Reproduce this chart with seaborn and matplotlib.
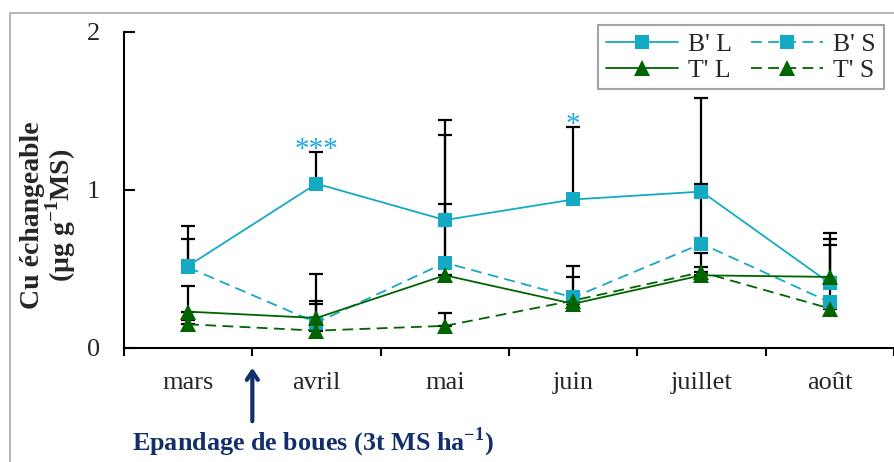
import numpy as np
import pandas as pd
import matplotlib
matplotlib.use("Agg")
import matplotlib.pyplot as plt
from matplotlib.lines import Line2D
from matplotlib.patches import Rectangle
import seaborn as sns

months = ['mars', 'avril', 'mai', 'juin', 'juillet', 'août']
bl = [0.52, 1.04, 0.81, 0.94, 0.99, 0.41]
bl_err = [0.25, 0.20, 0.63, 0.46, 0.59, 0.32]
bs = [0.51, 0.16, 0.54, 0.32, 0.66, 0.29]
bs_err = [0.18, 0.12, 0.81, 0.20, 0.38, 0.40]
tl = [0.23, 0.19, 0.46, 0.28, 0.46, 0.45]
tl_err = [0.16, 0.28, 0.45, 0.17, 0.14, 0.20]
ts = [0.15, 0.11, 0.14, 0.30, 0.48, 0.25]
ts_err = [0.03, 0.19, 0.08, 0.04, 0.03, 0.05]
series_names = ["B' L", "B' S", "T' L", "T' S"]
stars = {'avril': '***', 'juin': '*'}

sns.set_style('ticks')
plt.rcParams['font.family'] = ['Liberation Serif', 'DejaVu Serif']
plt.rcParams['mathtext.fontset'] = 'custom'
plt.rcParams['mathtext.rm'] = 'Liberation Serif'
plt.rcParams['mathtext.bf'] = 'Liberation Serif:bold'

CYAN = '#14AAC4'
GREEN = '#006400'
NAVY = '#132F6B'
STAR = '#1CA8E0'

W, H = 895, 462
fig = plt.figure(figsize=(W / 100, H / 100), dpi=100)
ax = fig.add_axes([124 / W, 1 - 348 / H, (894 - 124) / W, (348 - 32) / H])

pos = np.arange(len(months))
df = pd.DataFrame({'pos': pos, 'month': months, "B' L": bl, "B' S": bs, "T' L": tl, "T' S": ts})
errs = {"B' L": bl_err, "B' S": bs_err, "T' L": tl_err, "T' S": ts_err}
styles = {
    "B' L": dict(color=CYAN, marker='s', ms=9.5, ls='-'),
    "B' S": dict(color=CYAN, marker='s', ms=9.5, ls=(0, (6, 3.5))),
    "T' L": dict(color=GREEN, marker='^', ms=11, ls='-'),
    "T' S": dict(color=GREEN, marker='^', ms=11, ls=(0, (6, 3.5))),
}

# error bars (upper only), behind markers
for name in series_names:
    e = np.array(errs[name])
    ax.errorbar(pos, df[name], yerr=[np.zeros_like(e), e], fmt='none', ecolor='black',
                elinewidth=1.6, capsize=5, capthick=1.6, zorder=2)

for name in series_names:
    st = styles[name]
    sns.lineplot(data=df, x='pos', y=name, ax=ax, color=st['color'], marker=st['marker'],
                 markersize=st['ms'], markeredgewidth=0, linestyle=st['ls'], linewidth=1.3,
                 zorder=3, legend=False)

# significance stars
for m, s in stars.items():
    i = months.index(m)
    ax.text(i, bl[i] + bl_err[i] - 0.03, s, color=STAR, fontsize=21, ha='center', va='baseline',
            zorder=4)

ax.set_xlim(-0.5, len(months) - 0.5)
ax.set_ylim(0, 2)
ax.set_yticks([0, 1, 2])
ax.set_yticklabels(['0', '1', '2'])
ax.set_xticks(np.arange(-0.5, len(months), 1.0))
ax.set_xticklabels([])
ax.set_xticks(pos, minor=True)
ax.set_xticklabels(months, minor=True)
ax.tick_params(axis='x', which='major', direction='out', length=6, width=1.5, color='black')
ax.tick_params(axis='x', which='minor', length=0, pad=17, labelsize=19)
ax.tick_params(axis='y', direction='in', length=8, width=1.5, pad=17, labelsize=19, color='black')
ax.set_xlabel('')
for sp in ['top', 'right']:
    ax.spines[sp].set_visible(False)
for sp in ['left', 'bottom']:
    ax.spines[sp].set_linewidth(1.5)
    ax.spines[sp].set_color('black')

ax.set_ylabel("Cu échangeable\n(µg g$^{\\mathbf{-1}}$MS)", fontsize=20, fontweight='bold',
              linespacing=0.95)
ax.yaxis.set_label_coords(-0.060, 0.42)

# legend
handles = []
for name in series_names:
    st = styles[name]
    handles.append(Line2D([], [], color=st['color'], marker=st['marker'], markersize=st['ms'],
                          markeredgewidth=0, linestyle=st['ls'], linewidth=1.3, label=name))
order = [0, 2, 1, 3]
leg = fig.legend([handles[i] for i in order], [series_names[i] for i in order],
                 loc='upper left', bbox_to_anchor=(598 / W, 1 - 25 / H), ncol=2,
                 fontsize=18.5, frameon=True, fancybox=False, borderaxespad=0,
                 handlelength=2.8, handletextpad=0.4, columnspacing=0.75, labelspacing=0.12,
                 borderpad=0.3)
leg.get_frame().set_edgecolor('#8c8c8c')
leg.get_frame().set_linewidth(1.5)

# spreading annotation
ax.annotate('', xy=(0.5, 1 - 365 / H), xycoords=('data', 'figure fraction'),
            xytext=(0.5, 1 - 424 / H), textcoords=('data', 'figure fraction'),
            arrowprops=dict(arrowstyle='->,head_length=0.6,head_width=0.4', color=NAVY, lw=3),
            annotation_clip=False)
ax.text(0.97, 1 - 442 / H, "Epandage de boues (3t MS ha$^{\\mathbf{-1}}$)", color=NAVY,
        fontsize=18.8, fontweight='bold', ha='center', va='center',
        transform=matplotlib.transforms.blended_transform_factory(ax.transData, fig.transFigure))

# outer frame (left and top visible)
fig.add_artist(Rectangle((10 / W, -0.5), 2, (1 - 13 / H) + 0.5, transform=fig.transFigure,
                         fill=False, edgecolor='#a8a8a8', lw=1.2))

fig.savefig('out.png', dpi=100)
